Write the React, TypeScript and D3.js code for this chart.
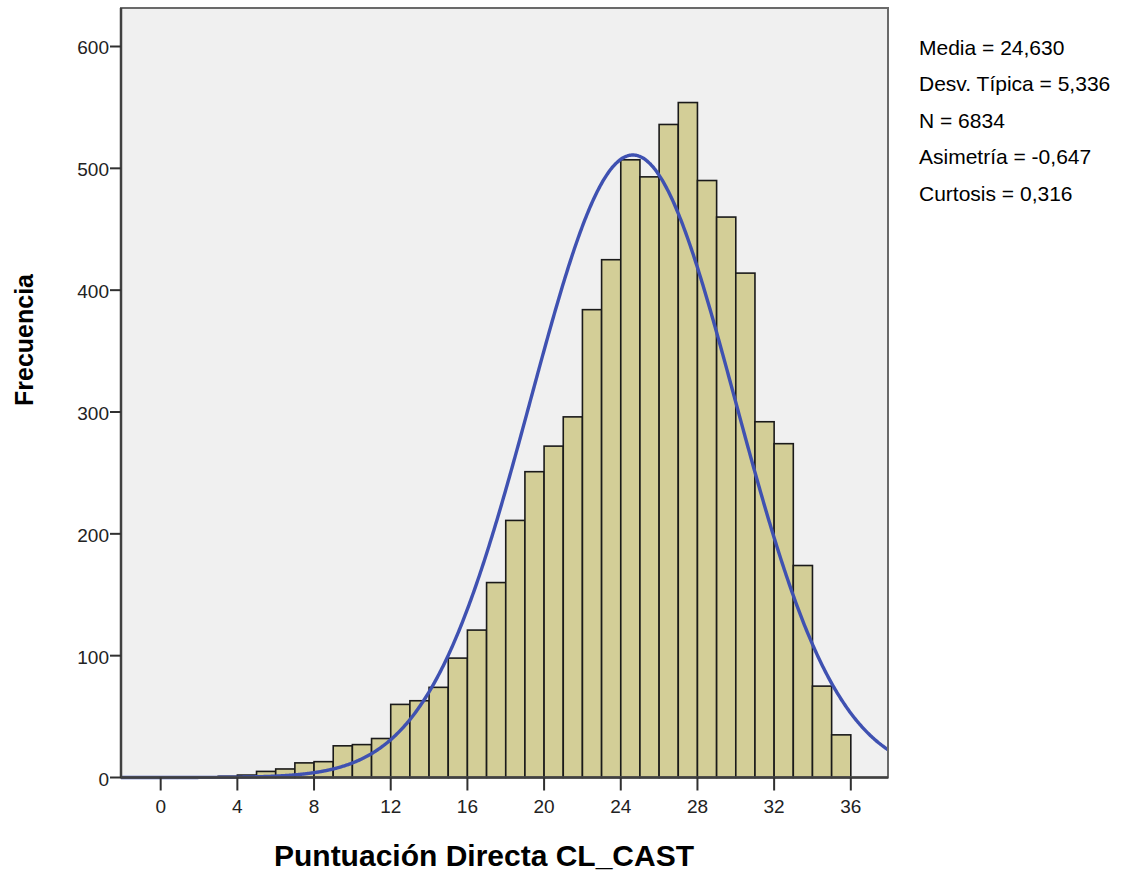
import React from "react";
import * as d3 from "d3";

// ---- Data ----
const binStarts = [3, 4, 5, 6, 7, 8, 9, 10, 11, 12, 13, 14, 15, 16, 17, 18, 19, 20, 21, 22, 23, 24, 25, 26, 27, 28, 29, 30, 31, 32, 33, 34, 35];
const frequencies = [1, 2, 5, 7, 12, 13, 26, 27, 32, 60, 63, 74, 98, 121, 160, 211, 251, 272, 296, 384, 425, 507, 493, 536, 554, 490, 460, 414, 292, 274, 174, 75, 35];
const binWidth = 1;

const xTicks = [0, 4, 8, 12, 16, 20, 24, 28, 32, 36];
const yTicks = [0, 100, 200, 300, 400, 500, 600];

const statMean = [24.63];
const statSd = [5.336];
const statN = [6834];
const statLines = [
  "Media = 24,630",
  "Desv. Típica = 5,336",
  "N = 6834",
  "Asimetría = -0,647",
  "Curtosis = 0,316",
];

const xTitle = "Puntuación Directa CL_CAST";
const yTitle = "Frecuencia";

// ---- Layout ----
const W = 1124;
const H = 874;
const plotLeft = 121;
const plotRight = 888;
const plotTop = 8;
const plotBottom = 777.5;

const FONT = "Arial, 'Liberation Sans', Helvetica, sans-serif";

export default function App() {
  const x = d3.scaleLinear().domain([-2.07, 37.94]).range([plotLeft, plotRight]);
  const y = d3.scaleLinear().domain([0, 631.6]).range([plotBottom, plotTop]);

  const mean = statMean[0];
  const sd = statSd[0];
  const n = statN[0];
  const [d0, d1] = x.domain();
  const curvePts: [number, number][] = d3.range(d0, d1 + 0.0001, 0.05).map((v) => {
    const z = (v - mean) / sd;
    const dens = (n * binWidth) / (sd * Math.sqrt(2 * Math.PI)) * Math.exp(-0.5 * z * z);
    return [v, dens];
  });
  const line = d3
    .line<[number, number]>()
    .x((d) => x(d[0]))
    .y((d) => y(d[1]))
    .curve(d3.curveBasis);

  return (
    <svg
      width={W}
      height={H}
      style={{ position: "absolute", left: 0, top: 0, background: "#ffffff" }}
      fontFamily={FONT}
    >
      {/* plot background */}
      <rect x={plotLeft} y={plotTop} width={plotRight - plotLeft} height={plotBottom - plotTop} fill="#f0f0f0" />

      {/* bars */}
      {binStarts.map((b, i) => (
        <rect
          key={b}
          x={x(b)}
          y={y(frequencies[i])}
          width={x(b + binWidth) - x(b)}
          height={plotBottom - y(frequencies[i])}
          fill="#d3ce97"
          stroke="#1a1a1a"
          strokeWidth={1.6}
        />
      ))}

      {/* normal curve */}
      <path d={line(curvePts) || ""} fill="none" stroke="#3f51b1" strokeWidth={3.4} />

      {/* frame */}
      <rect
        x={plotLeft}
        y={plotTop}
        width={plotRight - plotLeft}
        height={plotBottom - plotTop}
        fill="none"
        stroke="#6a6a6a"
        strokeWidth={2}
      />
      <line x1={plotLeft} x2={plotLeft} y1={plotTop} y2={plotBottom} stroke="#404040" strokeWidth={2.5} />
      <line x1={plotLeft} x2={plotRight} y1={plotBottom} y2={plotBottom} stroke="#404040" strokeWidth={2.5} />

      {/* y axis ticks */}
      {yTicks.map((t) => (
        <g key={t}>
          <line x1={plotLeft - 11} x2={plotLeft} y1={y(t)} y2={y(t)} stroke="#303030" strokeWidth={2} />
          <text x={plotLeft - 12} y={y(t) + 8} textAnchor="end" fontSize={19} fill="#222">
            {t}
          </text>
        </g>
      ))}

      {/* x axis ticks */}
      {xTicks.map((t) => (
        <g key={t}>
          <line x1={x(t)} x2={x(t)} y1={plotBottom} y2={plotBottom + 13} stroke="#303030" strokeWidth={2} />
          <text x={x(t)} y={813} textAnchor="middle" fontSize={19} fill="#222">
            {t}
          </text>
        </g>
      ))}

      {/* axis titles */}
      <text
        transform={`translate(33, 340) rotate(-90)`}
        textAnchor="middle"
        fontSize={25}
        fontWeight="bold"
        fill="#000"
      >
        {yTitle}
      </text>
      <text x={484} y={866} textAnchor="middle" fontSize={30} fontWeight="bold" fill="#000">
        {xTitle}
      </text>

      {/* statistics */}
      {statLines.map((s, i) => (
        <text key={s} x={919} y={54.5 + i * 36.5} fontSize={21} fill="#000">
          {s}
        </text>
      ))}
    </svg>
  );
}
